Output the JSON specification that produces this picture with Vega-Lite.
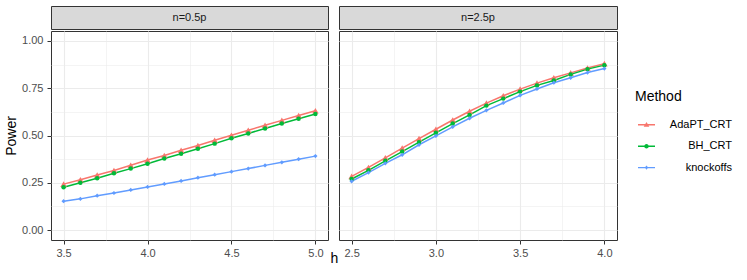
{
  "$schema": "https://vega.github.io/schema/vega-lite/v6.json",
  "background": "white",
  "padding": {"left": 4, "top": 5, "right": 5, "bottom": 5},
  "config": {
    "font": "Liberation Sans",
    "view": {"stroke": "#333333", "strokeWidth": 1},
    "axis": {
      "domain": false,
      "tickColor": "#333333",
      "tickSize": 4,
      "tickWidth": 1,
      "labelColor": "#4D4D4D",
      "labelFontSize": 11,
      "labelFont": "Liberation Sans",
      "labelFlush": false,
      "labelOverlap": false,
      "titleFont": "Liberation Sans",
      "titleFontSize": 14,
      "titleFontWeight": "normal",
      "titleColor": "#000000",
      "gridColor": "#EBEBEB",
      "gridWidth": 1.1
    },
    "legend": {
      "titleFont": "Liberation Sans",
      "titleFontSize": 14,
      "titleFontWeight": "normal",
      "titleColor": "#000000",
      "labelFont": "Liberation Sans",
      "labelFontSize": 11,
      "labelColor": "#000000",
      "labelAlign": "right",
      "labelOffset": 77,
      "symbolSize": 289,
      "symbolOpacity": 1,
      "symbolStrokeWidth": 0,
      "rowPadding": 7.4,
      "titlePadding": 12.3
    }
  },
  "datasets": {
    "power": [
      {"panel":"n=0.5p","Method":"AdaPT_CRT","h":3.5,"Power":0.243},
      {"panel":"n=0.5p","Method":"AdaPT_CRT","h":3.6,"Power":0.266},
      {"panel":"n=0.5p","Method":"AdaPT_CRT","h":3.7,"Power":0.291},
      {"panel":"n=0.5p","Method":"AdaPT_CRT","h":3.8,"Power":0.315},
      {"panel":"n=0.5p","Method":"AdaPT_CRT","h":3.9,"Power":0.343},
      {"panel":"n=0.5p","Method":"AdaPT_CRT","h":4.0,"Power":0.370},
      {"panel":"n=0.5p","Method":"AdaPT_CRT","h":4.1,"Power":0.394},
      {"panel":"n=0.5p","Method":"AdaPT_CRT","h":4.2,"Power":0.422},
      {"panel":"n=0.5p","Method":"AdaPT_CRT","h":4.3,"Power":0.447},
      {"panel":"n=0.5p","Method":"AdaPT_CRT","h":4.4,"Power":0.475},
      {"panel":"n=0.5p","Method":"AdaPT_CRT","h":4.5,"Power":0.501},
      {"panel":"n=0.5p","Method":"AdaPT_CRT","h":4.6,"Power":0.528},
      {"panel":"n=0.5p","Method":"AdaPT_CRT","h":4.7,"Power":0.554},
      {"panel":"n=0.5p","Method":"AdaPT_CRT","h":4.8,"Power":0.580},
      {"panel":"n=0.5p","Method":"AdaPT_CRT","h":4.9,"Power":0.606},
      {"panel":"n=0.5p","Method":"AdaPT_CRT","h":5.0,"Power":0.631},
      {"panel":"n=0.5p","Method":"BH_CRT","h":3.5,"Power":0.226},
      {"panel":"n=0.5p","Method":"BH_CRT","h":3.6,"Power":0.250},
      {"panel":"n=0.5p","Method":"BH_CRT","h":3.7,"Power":0.274},
      {"panel":"n=0.5p","Method":"BH_CRT","h":3.8,"Power":0.300},
      {"panel":"n=0.5p","Method":"BH_CRT","h":3.9,"Power":0.325},
      {"panel":"n=0.5p","Method":"BH_CRT","h":4.0,"Power":0.351},
      {"panel":"n=0.5p","Method":"BH_CRT","h":4.1,"Power":0.378},
      {"panel":"n=0.5p","Method":"BH_CRT","h":4.2,"Power":0.404},
      {"panel":"n=0.5p","Method":"BH_CRT","h":4.3,"Power":0.430},
      {"panel":"n=0.5p","Method":"BH_CRT","h":4.4,"Power":0.457},
      {"panel":"n=0.5p","Method":"BH_CRT","h":4.5,"Power":0.485},
      {"panel":"n=0.5p","Method":"BH_CRT","h":4.6,"Power":0.511},
      {"panel":"n=0.5p","Method":"BH_CRT","h":4.7,"Power":0.537},
      {"panel":"n=0.5p","Method":"BH_CRT","h":4.8,"Power":0.563},
      {"panel":"n=0.5p","Method":"BH_CRT","h":4.9,"Power":0.589},
      {"panel":"n=0.5p","Method":"BH_CRT","h":5.0,"Power":0.614},
      {"panel":"n=0.5p","Method":"knockoffs","h":3.5,"Power":0.153},
      {"panel":"n=0.5p","Method":"knockoffs","h":3.6,"Power":0.165},
      {"panel":"n=0.5p","Method":"knockoffs","h":3.7,"Power":0.182},
      {"panel":"n=0.5p","Method":"knockoffs","h":3.8,"Power":0.196},
      {"panel":"n=0.5p","Method":"knockoffs","h":3.9,"Power":0.212},
      {"panel":"n=0.5p","Method":"knockoffs","h":4.0,"Power":0.228},
      {"panel":"n=0.5p","Method":"knockoffs","h":4.1,"Power":0.244},
      {"panel":"n=0.5p","Method":"knockoffs","h":4.2,"Power":0.260},
      {"panel":"n=0.5p","Method":"knockoffs","h":4.3,"Power":0.277},
      {"panel":"n=0.5p","Method":"knockoffs","h":4.4,"Power":0.293},
      {"panel":"n=0.5p","Method":"knockoffs","h":4.5,"Power":0.309},
      {"panel":"n=0.5p","Method":"knockoffs","h":4.6,"Power":0.325},
      {"panel":"n=0.5p","Method":"knockoffs","h":4.7,"Power":0.342},
      {"panel":"n=0.5p","Method":"knockoffs","h":4.8,"Power":0.358},
      {"panel":"n=0.5p","Method":"knockoffs","h":4.9,"Power":0.375},
      {"panel":"n=0.5p","Method":"knockoffs","h":5.0,"Power":0.391},
      {"panel":"n=2.5p","Method":"AdaPT_CRT","h":2.5,"Power":0.284},
      {"panel":"n=2.5p","Method":"AdaPT_CRT","h":2.6,"Power":0.331},
      {"panel":"n=2.5p","Method":"AdaPT_CRT","h":2.7,"Power":0.382},
      {"panel":"n=2.5p","Method":"AdaPT_CRT","h":2.8,"Power":0.433},
      {"panel":"n=2.5p","Method":"AdaPT_CRT","h":2.9,"Power":0.484},
      {"panel":"n=2.5p","Method":"AdaPT_CRT","h":3.0,"Power":0.533},
      {"panel":"n=2.5p","Method":"AdaPT_CRT","h":3.1,"Power":0.582},
      {"panel":"n=2.5p","Method":"AdaPT_CRT","h":3.2,"Power":0.628},
      {"panel":"n=2.5p","Method":"AdaPT_CRT","h":3.3,"Power":0.671},
      {"panel":"n=2.5p","Method":"AdaPT_CRT","h":3.4,"Power":0.710},
      {"panel":"n=2.5p","Method":"AdaPT_CRT","h":3.5,"Power":0.745},
      {"panel":"n=2.5p","Method":"AdaPT_CRT","h":3.6,"Power":0.777},
      {"panel":"n=2.5p","Method":"AdaPT_CRT","h":3.7,"Power":0.805},
      {"panel":"n=2.5p","Method":"AdaPT_CRT","h":3.8,"Power":0.831},
      {"panel":"n=2.5p","Method":"AdaPT_CRT","h":3.9,"Power":0.857},
      {"panel":"n=2.5p","Method":"AdaPT_CRT","h":4.0,"Power":0.880},
      {"panel":"n=2.5p","Method":"BH_CRT","h":2.5,"Power":0.270},
      {"panel":"n=2.5p","Method":"BH_CRT","h":2.6,"Power":0.316},
      {"panel":"n=2.5p","Method":"BH_CRT","h":2.7,"Power":0.366},
      {"panel":"n=2.5p","Method":"BH_CRT","h":2.8,"Power":0.415},
      {"panel":"n=2.5p","Method":"BH_CRT","h":2.9,"Power":0.465},
      {"panel":"n=2.5p","Method":"BH_CRT","h":3.0,"Power":0.514},
      {"panel":"n=2.5p","Method":"BH_CRT","h":3.1,"Power":0.563},
      {"panel":"n=2.5p","Method":"BH_CRT","h":3.2,"Power":0.609},
      {"panel":"n=2.5p","Method":"BH_CRT","h":3.3,"Power":0.658},
      {"panel":"n=2.5p","Method":"BH_CRT","h":3.4,"Power":0.695},
      {"panel":"n=2.5p","Method":"BH_CRT","h":3.5,"Power":0.732},
      {"panel":"n=2.5p","Method":"BH_CRT","h":3.6,"Power":0.765},
      {"panel":"n=2.5p","Method":"BH_CRT","h":3.7,"Power":0.791},
      {"panel":"n=2.5p","Method":"BH_CRT","h":3.8,"Power":0.823},
      {"panel":"n=2.5p","Method":"BH_CRT","h":3.9,"Power":0.851},
      {"panel":"n=2.5p","Method":"BH_CRT","h":4.0,"Power":0.872},
      {"panel":"n=2.5p","Method":"knockoffs","h":2.5,"Power":0.258},
      {"panel":"n=2.5p","Method":"knockoffs","h":2.6,"Power":0.304},
      {"panel":"n=2.5p","Method":"knockoffs","h":2.7,"Power":0.353},
      {"panel":"n=2.5p","Method":"knockoffs","h":2.8,"Power":0.398},
      {"panel":"n=2.5p","Method":"knockoffs","h":2.9,"Power":0.451},
      {"panel":"n=2.5p","Method":"knockoffs","h":3.0,"Power":0.498},
      {"panel":"n=2.5p","Method":"knockoffs","h":3.1,"Power":0.546},
      {"panel":"n=2.5p","Method":"knockoffs","h":3.2,"Power":0.591},
      {"panel":"n=2.5p","Method":"knockoffs","h":3.3,"Power":0.633},
      {"panel":"n=2.5p","Method":"knockoffs","h":3.4,"Power":0.672},
      {"panel":"n=2.5p","Method":"knockoffs","h":3.5,"Power":0.712},
      {"panel":"n=2.5p","Method":"knockoffs","h":3.6,"Power":0.746},
      {"panel":"n=2.5p","Method":"knockoffs","h":3.7,"Power":0.779},
      {"panel":"n=2.5p","Method":"knockoffs","h":3.8,"Power":0.805},
      {"panel":"n=2.5p","Method":"knockoffs","h":3.9,"Power":0.833},
      {"panel":"n=2.5p","Method":"knockoffs","h":4.0,"Power":0.854}
    ]
  },
  "spacing": -2,
  "resolve": {"scale": {"color": "shared"}},
  "hconcat": [
    {
      "spacing": 0,
      "vconcat": [
        {
          "width": 277,
          "height": 23,
          "data": {"values": [{"label": "n=0.5p"}]},
          "view": {"fill": "#D9D9D9", "stroke": "#333333"},
          "mark": {"type": "text", "fontSize": 11, "color": "#1A1A1A", "font": "Liberation Sans"},
          "encoding": {"text": {"field": "label"}}
        },
        {
          "width": 277,
          "height": 209,
          "data": {"name": "power"},
          "transform": [{"filter": "datum.panel === 'n=0.5p'"}],
          "resolve": {"axis": {"x": "independent", "y": "independent"}},
          "layer": [
            {
              "mark": {"type": "line", "opacity": 0},
              "encoding": {
                "x": {"field": "h", "type": "quantitative", "scale": {"domain": [3.425, 5.075], "nice": false, "zero": false},
                  "axis": {"orient": "top", "values": [3.75, 4.25, 4.75], "grid": true, "gridWidth": 0.55, "labels": false, "ticks": false, "domain": false, "title": null, "minExtent": 0}},
                "y": {"field": "Power", "type": "quantitative", "scale": {"domain": [-0.0525, 1.0525], "nice": false, "zero": false},
                  "axis": {"orient": "right", "values": [0.125, 0.375, 0.625, 0.875], "grid": true, "gridWidth": 0.55, "labels": false, "ticks": false, "domain": false, "title": null, "minExtent": 0}},
                "color": {"field": "Method", "type": "nominal", "legend": null}
              }
            },
            {
              "mark": {"type": "line", "strokeWidth": 1.5},
              "encoding": {
                "x": {"field": "h", "type": "quantitative",
                  "axis": {"orient": "bottom", "values": [3.5, 4.0, 4.5, 5.0], "format": ".1f", "grid": true, "labelPadding": 3, "title": "h", "titleX": 283, "titleY": 11, "titleBaseline": "top"}},
                "y": {"field": "Power", "type": "quantitative",
                  "axis": {"orient": "left", "values": [0, 0.25, 0.5, 0.75, 1], "format": ".2f", "grid": true, "labelPadding": 4, "title": "Power", "titlePadding": 3}},
                "color": {"field": "Method", "type": "nominal", "legend": null,
                  "scale": {"domain": ["AdaPT_CRT", "BH_CRT", "knockoffs"], "range": ["#F8766D", "#00BA38", "#619CFF"]}}
              }
            },
            {
              "transform": [{"filter": "datum.Method === 'AdaPT_CRT'"}],
              "mark": {"type": "point", "shape": "triangle-up", "filled": true, "size": 42, "opacity": 1},
              "encoding": {
                "x": {"field": "h", "type": "quantitative", "axis": null},
                "y": {"field": "Power", "type": "quantitative", "axis": null},
                "color": {"field": "Method", "type": "nominal", "legend": null}
              }
            },
            {
              "transform": [{"filter": "datum.Method === 'BH_CRT'"}],
              "mark": {"type": "point", "shape": "circle", "filled": true, "size": 20, "opacity": 1},
              "encoding": {
                "x": {"field": "h", "type": "quantitative", "axis": null},
                "y": {"field": "Power", "type": "quantitative", "axis": null},
                "color": {"field": "Method", "type": "nominal", "legend": null}
              }
            },
            {
              "transform": [{"filter": "datum.Method === 'knockoffs'"}],
              "mark": {"type": "point", "shape": "diamond", "filled": true, "size": 18, "opacity": 1},
              "encoding": {
                "x": {"field": "h", "type": "quantitative", "axis": null},
                "y": {"field": "Power", "type": "quantitative", "axis": null},
                "color": {"field": "Method", "type": "nominal", "legend": null}
              }
            },
            {
              "mark": {"type": "point", "filled": true, "opacity": 0},
              "encoding": {
                "x": {"field": "h", "type": "quantitative", "axis": null},
                "y": {"field": "Power", "type": "quantitative", "axis": null},
                "fill": {"field": "Method", "type": "nominal", "title": "Method",
                  "scale": {"range": ["#F8766D", "#00BA38", "#619CFF"]},
                  "legend": {"orient": "none", "legendX": 584, "legendY": 84, "symbolOpacity": 1, "symbolOffset": 3}},
                "shape": {"field": "Method", "type": "nominal", "title": "Method",
                  "scale": {
                    "range": [
                      "M-1,-0.085H1V0.085H-1Z M0,-0.32L0.33,0.24L-0.33,0.24Z",
                      "M-1,-0.085H1V0.085H-1Z M0.27,0A0.27,0.27 0 1 1 -0.27,0A0.27,0.27 0 1 1 0.27,0Z",
                      "M-1,-0.085H1V0.085H-1Z M0,-0.26L0.2,0L0,0.26L-0.2,0Z"
                    ]},
                  "legend": {"orient": "none", "legendX": 584, "legendY": 84, "symbolOpacity": 1, "symbolOffset": 3}}
              }
            }
          ]
        }
      ]
    },
    {
      "spacing": 0,
      "vconcat": [
        {
          "width": 278,
          "height": 23,
          "data": {"values": [{"label": "n=2.5p"}]},
          "view": {"fill": "#D9D9D9", "stroke": "#333333"},
          "mark": {"type": "text", "fontSize": 11, "color": "#1A1A1A", "font": "Liberation Sans"},
          "encoding": {"text": {"field": "label"}}
        },
        {
          "width": 278,
          "height": 209,
          "data": {"name": "power"},
          "transform": [{"filter": "datum.panel === 'n=2.5p'"}],
          "resolve": {"axis": {"x": "independent", "y": "independent"}},
          "layer": [
            {
              "mark": {"type": "line", "opacity": 0},
              "encoding": {
                "x": {"field": "h", "type": "quantitative", "scale": {"domain": [2.425, 4.075], "nice": false, "zero": false},
                  "axis": {"orient": "top", "values": [2.75, 3.25, 3.75], "grid": true, "gridWidth": 0.55, "labels": false, "ticks": false, "domain": false, "title": null, "minExtent": 0}},
                "y": {"field": "Power", "type": "quantitative", "scale": {"domain": [-0.0525, 1.0525], "nice": false, "zero": false},
                  "axis": {"orient": "right", "values": [0.125, 0.375, 0.625, 0.875], "grid": true, "gridWidth": 0.55, "labels": false, "ticks": false, "domain": false, "title": null, "minExtent": 0}},
                "color": {"field": "Method", "type": "nominal", "legend": null}
              }
            },
            {
              "mark": {"type": "line", "strokeWidth": 1.5},
              "encoding": {
                "x": {"field": "h", "type": "quantitative",
                  "axis": {"orient": "bottom", "values": [2.5, 3.0, 3.5, 4.0], "format": ".1f", "grid": true, "labelPadding": 3, "title": null}},
                "y": {"field": "Power", "type": "quantitative",
                  "axis": {"orient": "left", "values": [0, 0.25, 0.5, 0.75, 1], "grid": true, "labels": false, "ticks": false, "title": null, "minExtent": 0}},
                "color": {"field": "Method", "type": "nominal", "legend": null,
                  "scale": {"domain": ["AdaPT_CRT", "BH_CRT", "knockoffs"], "range": ["#F8766D", "#00BA38", "#619CFF"]}}
              }
            },
            {
              "transform": [{"filter": "datum.Method === 'AdaPT_CRT'"}],
              "mark": {"type": "point", "shape": "triangle-up", "filled": true, "size": 42, "opacity": 1},
              "encoding": {
                "x": {"field": "h", "type": "quantitative", "axis": null},
                "y": {"field": "Power", "type": "quantitative", "axis": null},
                "color": {"field": "Method", "type": "nominal", "legend": null}
              }
            },
            {
              "transform": [{"filter": "datum.Method === 'BH_CRT'"}],
              "mark": {"type": "point", "shape": "circle", "filled": true, "size": 20, "opacity": 1},
              "encoding": {
                "x": {"field": "h", "type": "quantitative", "axis": null},
                "y": {"field": "Power", "type": "quantitative", "axis": null},
                "color": {"field": "Method", "type": "nominal", "legend": null}
              }
            },
            {
              "transform": [{"filter": "datum.Method === 'knockoffs'"}],
              "mark": {"type": "point", "shape": "diamond", "filled": true, "size": 18, "opacity": 1},
              "encoding": {
                "x": {"field": "h", "type": "quantitative", "axis": null},
                "y": {"field": "Power", "type": "quantitative", "axis": null},
                "color": {"field": "Method", "type": "nominal", "legend": null}
              }
            }
          ]
        }
      ]
    }
  ]
}
